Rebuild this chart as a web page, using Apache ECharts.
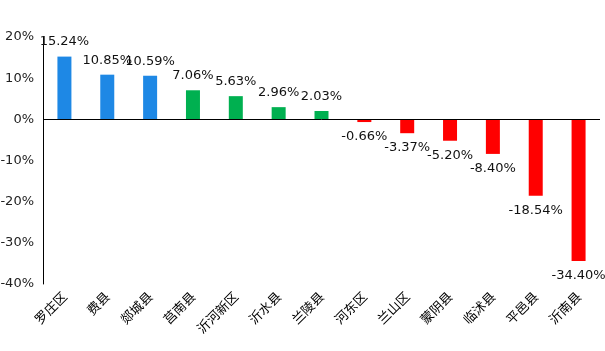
<!DOCTYPE html>
<html>
<head>
<meta charset="utf-8">
<script src="https://cdn.jsdelivr.net/npm/echarts@6/dist/echarts.min.js"></script>
<style>
html,body{margin:0;padding:0;background:#fff;}
#main{width:605px;height:351px;}
</style>
</head>
<body>
<div id="main"></div>
<script>
// 区县名称
var categories = ['罗庄区','费县','郯城县','莒南县','沂河新区','沂水县','兰陵县','河东区','兰山区','蒙阴县','临沭县','平邑县','沂南县'];
// 增幅(%)
var values = [15.24, 10.85, 10.59, 7.06, 5.63, 2.96, 2.03, -0.66, -3.37, -5.20, -8.40, -18.54, -34.40];
// y轴刻度
var yMin = -40, yMax = 20, yStep = 10;

function barColor(i, v){
	if(i < 3) return '#1e88e5';
	if(v >= 0) return '#00b050';
	return '#ff0000';
}

var seriesData = [];
for(var i=0;i<values.length;i++){
	seriesData.push({
		value: values[i],
		itemStyle: {color: barColor(i, values[i])},
		label: {position: values[i] >= 0 ? 'top' : 'bottom'}
	});
}

var myChart = echarts.init(document.getElementById('main'));
myChart.setOption({
	animation: false,
	grid: {left: 43, right: 5, top: 37, bottom: 67, containLabel: false, outerBoundsMode: 'none'},
	xAxis: {
		type: 'category',
		data: categories,
		axisLine: {show: false, onZero: false},
		axisTick: {show: false},
		axisLabel: {
			interval: 0,
			rotate: 45,
			margin: 10,
			color: '#000',
			fontSize: 13,
			fontFamily: 'Noto Sans CJK SC'
		}
	},
	yAxis: {
		type: 'value',
		min: yMin,
		max: yMax,
		interval: yStep,
		axisLine: {show: true, lineStyle: {color: '#000', width: 1}},
		axisTick: {show: false},
		splitLine: {show: false},
		axisLabel: {
			formatter: '{value}%',
			color: '#222',
			fontSize: 13,
			margin: 9,
			fontFamily: 'DejaVu Sans'
		}
	},
	series: [{
		type: 'bar',
		barWidth: 14,
		data: seriesData,
		label: {
			show: true,
			color: '#111',
			fontSize: 13,
			fontFamily: 'DejaVu Sans',
			distance: 8,
			formatter: function(p){ return p.value.toFixed(2) + '%'; }
		},
		markLine: {
			silent: true,
			symbol: 'none',
			label: {show: false},
			lineStyle: {color: '#000', width: 1, type: 'solid'},
			data: [{yAxis: 0}]
		}
	}]
});
</script>
</body>
</html>
